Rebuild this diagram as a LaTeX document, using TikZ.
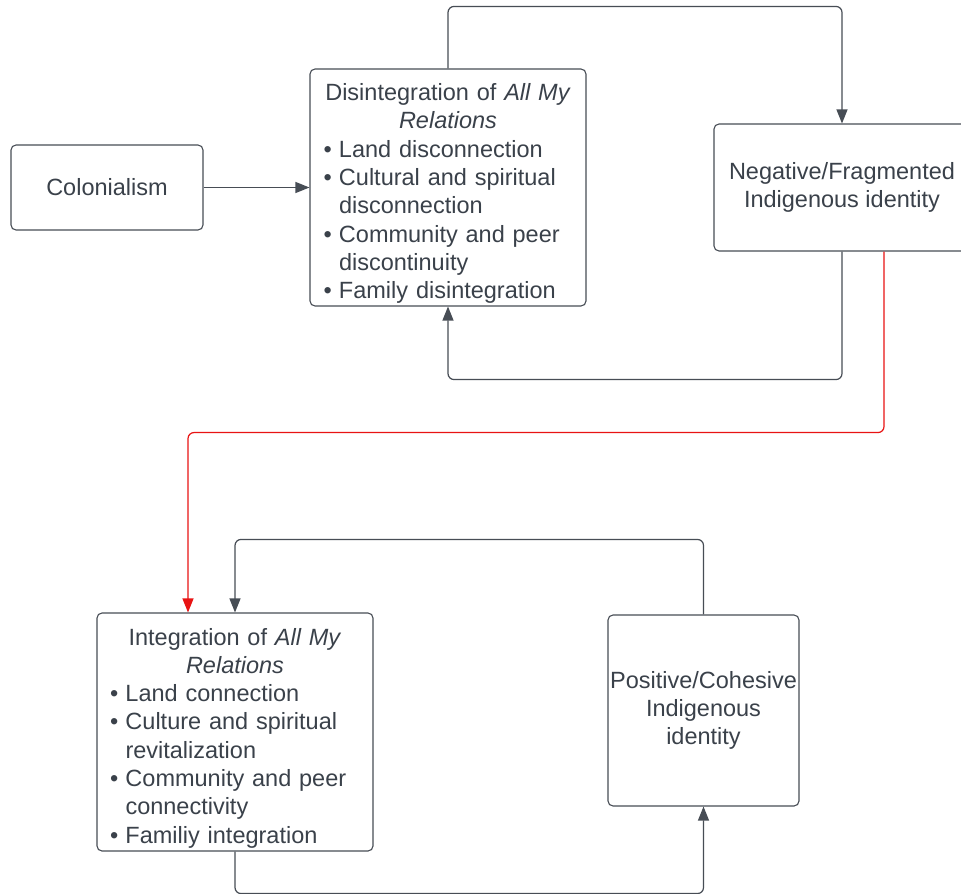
\documentclass[tikz,border=0pt]{standalone}
\usepackage{fontspec}
\setmainfont{Liberation Sans}
\usetikzlibrary{arrows.meta}

\definecolor{ink}{HTML}{3A414A}
\definecolor{edge}{HTML}{474D55}
\definecolor{alert}{HTML}{E81313}

% bullet item with a hanging indent for wrapped lines
\newcommand{\bitem}{\makebox[15.5pt][l]{\textbullet}}
\newcommand{\cont}{\hspace*{15.5pt}}
% extra room above a box's first line
\newcommand{\topgap}{\rule{0pt}{29pt}}

\begin{document}
\begin{tikzpicture}[x=1pt,y=-1pt,
  every node/.style={font=\fontsize{23.5}{28.3}\selectfont, text=ink},
  box/.style={draw=edge, line width=1.1pt, rounded corners=5pt, fill=white,
    inner sep=0pt, align=center},
  link/.style={draw=edge, line width=1.2pt, rounded corners=6pt,
    -{Triangle[length=14pt,width=11pt]}, color=edge},
  redlink/.style={link, draw=alert, color=alert}]

\clip (0,0) rectangle (961,894);
\fill[white] (0,0) rectangle (961,894);

% boxes
\node[box, minimum width=192pt, minimum height=85pt] (col) at (107,187.5) {Colonialism};

\node[box, minimum width=276pt, minimum height=237pt, text width=249pt, align=left] (dis) at (448,187.5)
  {{\centering\topgap Disintegration of \textit{All My}\\ \textit{Relations}\par}
   \bitem Land disconnection\\
   \bitem Cultural and spiritual\\
   \cont disconnection\\
   \bitem Community and peer\\
   \cont discontinuity\\
   \bitem Family disintegration};

\node[box, minimum width=256pt, minimum height=127pt] (neg) at (842,187.5)
  {Negative/Fragmented\\ Indigenous identity};

\node[box, minimum width=276pt, minimum height=238pt, text width=250pt, align=left] (integ) at (235,732)
  {{\centering\topgap Integration of \textit{All My}\\ \textit{Relations}\par}
   \bitem Land connection\\
   \bitem Culture and spiritual\\
   \cont revitalization\\
   \bitem Community and peer\\
   \cont connectivity\\
   \bitem Familiy integration};

\node[box, minimum width=191pt, minimum height=191pt] (pos) at (703.5,710.5)
  {Positive/Cohesive\\ Indigenous\\ identity};

% connectors
\draw[link] (col.east) -- (dis.west);
\draw[link] (dis.north) -- ++(0,-62) -| (neg.north);
\draw[link] (neg.south) -- ++(0,128) -| (dis.south);
\draw[redlink] ([xshift=42pt]neg.south) -- ++(0,181) -| ([xshift=-47pt]integ.north);
\draw[link] (pos.north) -- ++(0,-75) -| (integ.north);
\draw[link] (integ.south) -- ++(0,42) -| (pos.south);

\end{tikzpicture}
\end{document}
